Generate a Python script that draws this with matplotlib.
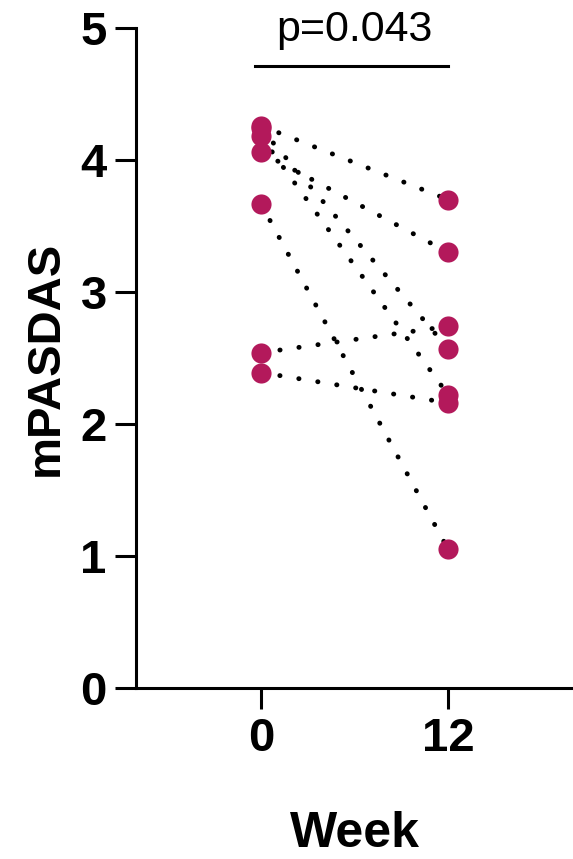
import matplotlib.pyplot as plt

plt.rcParams['font.family'] = ['Liberation Sans', 'DejaVu Sans']

# paired mPASDAS scores, week 0 -> week 12
weeks = [0, 12]
week0 = [4.26, 4.06, 4.24, 4.18, 3.67, 2.54, 2.39]
week12 = [3.70, 3.30, 2.57, 2.22, 1.05, 2.74, 2.16]
p_text = 'p=0.043'

fig = plt.figure(figsize=(5.73, 8.59), dpi=100)
ax = fig.add_axes([136 / 573, 1 - 688 / 859, 1 - 136 / 573, (688 - 28) / 859])

for a, b in zip(week0, week12):
    ax.plot(weeks, [a, b], color='black', lw=3.5, linestyle=(0, (0.05, 3.9)),
            dash_capstyle='round', zorder=2)
ax.plot([weeks[0]] * len(week0), week0, 'o', color='#b3195b', ms=14.5, mew=0, zorder=3)
ax.plot([weeks[1]] * len(week12), week12, 'o', color='#b3195b', ms=14.5, mew=0, zorder=3)

# significance bar
ax.plot([-0.4, 12], [4.71, 4.71], color='black', lw=2.2, clip_on=False)
ax.text(6, 4.9, p_text, ha='center', va='baseline', fontsize=31)

ax.set_xlim(-8, 20)
ax.set_ylim(0, 5)
ax.set_xticks(weeks)
ax.set_yticks([0, 1, 2, 3, 4, 5])
for s in ['top', 'right']:
    ax.spines[s].set_visible(False)
for s in ['left', 'bottom']:
    ax.spines[s].set_linewidth(2.2)
ax.tick_params(width=2.2, length=15, labelsize=34, pad=6)
for lab in ax.get_xticklabels() + ax.get_yticklabels():
    lab.set_fontweight('bold')
ax.set_ylabel('mPASDAS', fontsize=34, fontweight='bold', labelpad=9)
ax.set_xlabel('Week', fontsize=36, fontweight='bold', labelpad=36)

plt.savefig('out.png', dpi=100)
